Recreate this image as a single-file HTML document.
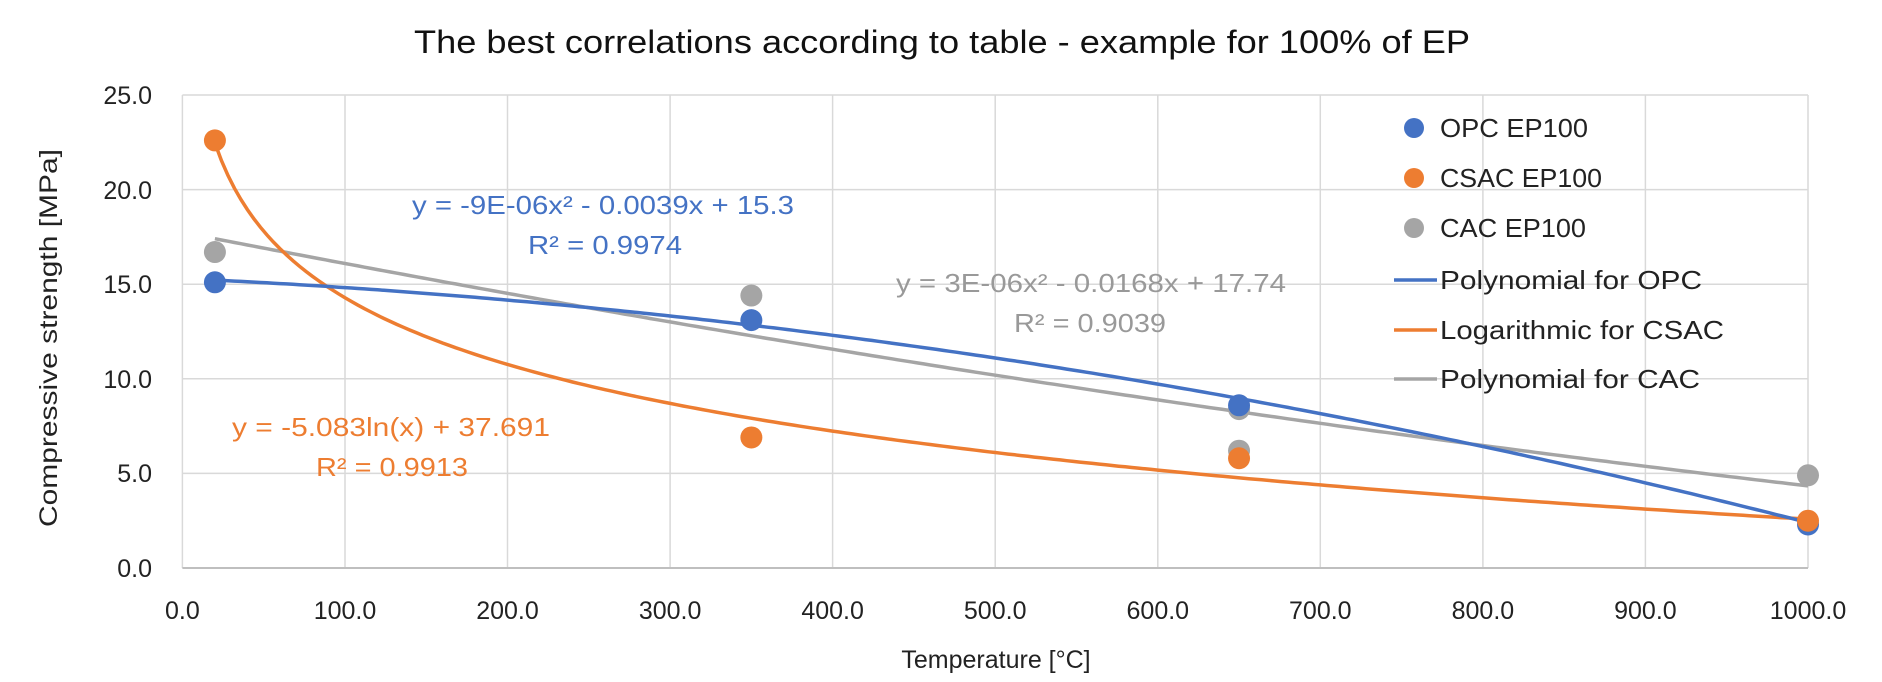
<!DOCTYPE html>
<html><head><meta charset="utf-8"><style>
html,body{margin:0;padding:0;background:#fff;}
svg{display:block;font-family:"Liberation Sans",sans-serif;}
</style></head><body>
<svg width="1882" height="682" viewBox="0 0 1882 682" xmlns="http://www.w3.org/2000/svg">
<rect width="1882" height="682" fill="#fff"/>
<text x="942" y="53" font-size="32" text-anchor="middle" fill="#111" textLength="1056" lengthAdjust="spacingAndGlyphs">The best correlations according to table - example for 100% of EP</text>
<g stroke="#d9d9d9" stroke-width="1.5">
<line x1="182.4" y1="95" x2="1808" y2="95"/>
<line x1="182.4" y1="189.6" x2="1808" y2="189.6"/>
<line x1="182.4" y1="284.2" x2="1808" y2="284.2"/>
<line x1="182.4" y1="378.8" x2="1808" y2="378.8"/>
<line x1="182.4" y1="473.4" x2="1808" y2="473.4"/>
<line x1="182.4" y1="95" x2="182.4" y2="568"/>
<line x1="345" y1="95" x2="345" y2="568"/>
<line x1="507.5" y1="95" x2="507.5" y2="568"/>
<line x1="670.1" y1="95" x2="670.1" y2="568"/>
<line x1="832.6" y1="95" x2="832.6" y2="568"/>
<line x1="995.2" y1="95" x2="995.2" y2="568"/>
<line x1="1157.8" y1="95" x2="1157.8" y2="568"/>
<line x1="1320.3" y1="95" x2="1320.3" y2="568"/>
<line x1="1482.9" y1="95" x2="1482.9" y2="568"/>
<line x1="1645.4" y1="95" x2="1645.4" y2="568"/>
<line x1="1808" y1="95" x2="1808" y2="568"/>
</g>
<line x1="182.4" y1="568" x2="1808" y2="568" stroke="#bfbfbf" stroke-width="2"/>
<g font-size="25" fill="#222" text-anchor="end">
<text x="152" y="104">25.0</text><text x="152" y="199">20.0</text><text x="152" y="293">15.0</text>
<text x="152" y="388">10.0</text><text x="152" y="482">5.0</text><text x="152" y="577">0.0</text>
</g>
<g font-size="25" fill="#222" text-anchor="middle">
<text x="182.4" y="619">0.0</text><text x="345" y="619">100.0</text><text x="507.5" y="619">200.0</text>
<text x="670.1" y="619">300.0</text><text x="832.6" y="619">400.0</text><text x="995.2" y="619">500.0</text>
<text x="1157.8" y="619">600.0</text><text x="1320.3" y="619">700.0</text><text x="1482.9" y="619">800.0</text>
<text x="1645.4" y="619">900.0</text><text x="1808" y="619">1000.0</text>
</g>
<text x="996" y="668" font-size="25" text-anchor="middle" fill="#222">Temperature [°C]</text>
<text transform="translate(57,338) rotate(-90)" font-size="25" text-anchor="middle" fill="#222" textLength="378" lengthAdjust="spacingAndGlyphs">Compressive strength [MPa]</text>
<g id="curves" fill="none" stroke-width="3.5"></g>
<g id="pts"></g>
<g font-size="26">
<text x="603" y="214" fill="#4472c4" text-anchor="middle" textLength="382" lengthAdjust="spacingAndGlyphs">y = -9E-06x² - 0.0039x + 15.3</text>
<text x="605" y="254" fill="#4472c4" text-anchor="middle" textLength="154" lengthAdjust="spacingAndGlyphs">R² = 0.9974</text>
<text x="1091" y="292" fill="#999" text-anchor="middle" textLength="390" lengthAdjust="spacingAndGlyphs">y = 3E-06x² - 0.0168x + 17.74</text>
<text x="1090" y="332" fill="#999" text-anchor="middle" textLength="152" lengthAdjust="spacingAndGlyphs">R² = 0.9039</text>
<text x="391" y="436" fill="#ed7d31" text-anchor="middle" textLength="318" lengthAdjust="spacingAndGlyphs">y = -5.083ln(x) + 37.691</text>
<text x="392" y="476" fill="#ed7d31" text-anchor="middle" textLength="152" lengthAdjust="spacingAndGlyphs">R² = 0.9913</text>
</g>
<g font-size="26" fill="#222">
<circle cx="1414" cy="128" r="10" fill="#4472c4"/><text x="1440" y="137" textLength="148" lengthAdjust="spacingAndGlyphs">OPC EP100</text>
<circle cx="1414" cy="178" r="10" fill="#ed7d31"/><text x="1440" y="187" textLength="162" lengthAdjust="spacingAndGlyphs">CSAC EP100</text>
<circle cx="1414" cy="228" r="10" fill="#a5a5a5"/><text x="1440" y="237" textLength="146" lengthAdjust="spacingAndGlyphs">CAC EP100</text>
<line x1="1394" y1="280" x2="1437" y2="280" stroke="#4472c4" stroke-width="3.5"/><text x="1440" y="289" textLength="262" lengthAdjust="spacingAndGlyphs">Polynomial for OPC</text>
<line x1="1394" y1="330" x2="1437" y2="330" stroke="#ed7d31" stroke-width="3.5"/><text x="1440" y="339" textLength="284" lengthAdjust="spacingAndGlyphs">Logarithmic for CSAC</text>
<line x1="1394" y1="379" x2="1437" y2="379" stroke="#a5a5a5" stroke-width="3.5"/><text x="1440" y="388" textLength="260" lengthAdjust="spacingAndGlyphs">Polynomial for CAC</text>
</g>
<script>
(function(){
var X=function(x){return 182.4+x*1.6256;},Y=function(y){return 568-y*18.92;};
function path(f,c){var d="";for(var x=20;x<=1000;x+=4){d+=(x==20?"M":"L")+X(x).toFixed(1)+","+Y(f(x)).toFixed(1);}
var p=document.createElementNS("http://www.w3.org/2000/svg","path");p.setAttribute("d",d);p.setAttribute("stroke",c);document.getElementById("curves").appendChild(p);}
path(function(x){return 3e-6*x*x-0.0168*x+17.74+0.4*(x/1000)*(x/1000);},"#a5a5a5");
path(function(x){return -5.083*Math.log(x)+37.691;},"#ed7d31");
path(function(x){return -9e-6*x*x-0.0039*x+15.3;},"#4472c4");
var pts=[["#a5a5a5",[[20,16.7],[350,14.4],[650,8.4],[650,6.2],[1000,4.9]]],["#4472c4",[[20,15.1],[350,13.1],[650,8.6],[1000,2.3]]],["#ed7d31",[[20,22.6],[350,6.9],[650,5.8],[1000,2.5]]]];
pts.forEach(function(s){s[1].forEach(function(p){var c=document.createElementNS("http://www.w3.org/2000/svg","circle");c.setAttribute("cx",X(p[0]));c.setAttribute("cy",Y(p[1]));c.setAttribute("r",11);c.setAttribute("fill",s[0]);document.getElementById("pts").appendChild(c);});});
})();
</script>
</svg>
</body></html>
